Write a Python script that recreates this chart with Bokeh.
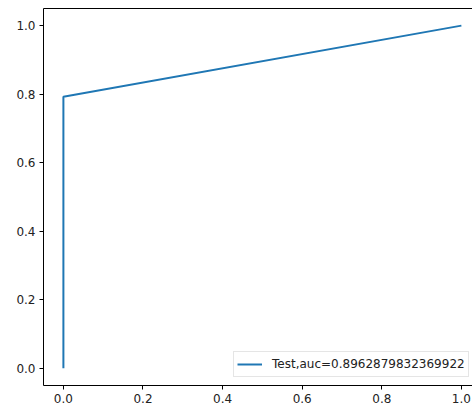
from bokeh.plotting import figure
from bokeh.models import LinearAxis, FixedTicker, PrintfTickFormatter, Range1d
from bokeh.embed import file_html
from bokeh.resources import INLINE

fpr = [0.0, 0.0, 1.0]
tpr = [0.0, 0.7925759664739844, 1.0]
auc = 0.8962879832369922
label = "Test,auc=" + str(auc)
ticks = [0.0, 0.2, 0.4, 0.6, 0.8, 1.0]

p = figure(width=472, height=407, output_backend="svg", toolbar_location=None,
           x_range=Range1d(-0.05, 1.0279), y_range=Range1d(-0.05, 1.05),
           min_border_left=43, min_border_top=8, min_border_right=0, min_border_bottom=22,
           x_axis_location=None, y_axis_location=None)
p.outline_line_color = None
p.grid.visible = False

xa = LinearAxis(ticker=FixedTicker(ticks=ticks), formatter=PrintfTickFormatter(format="%.1f"))
ya = LinearAxis(ticker=FixedTicker(ticks=ticks), formatter=PrintfTickFormatter(format="%.1f"))
for ax in (xa, ya):
    ax.major_tick_in = 0
    ax.major_tick_out = 4
    ax.minor_tick_line_color = None
    ax.axis_line_color = "black"
    ax.major_tick_line_color = "black"
    ax.major_label_text_font = "DejaVu Sans"
    ax.major_label_text_font_size = "12px"
    ax.major_label_text_color = "#222222"
    ax.major_label_standoff = 4
p.add_layout(xa, "below")
p.add_layout(ya, "left")

top = LinearAxis(ticker=FixedTicker(ticks=[]), major_tick_in=0, major_tick_out=0,
                 minor_tick_line_color=None, major_label_text_font_size="0px",
                 major_label_standoff=0, axis_line_color="black")
p.add_layout(top, "above")

p.line(fpr, tpr, line_color="#1f77b4", line_width=2, legend_label=label)

lg = p.legend[0]
lg.location = (190, 8)
lg.label_text_font = "DejaVu Sans"
lg.label_text_font_size = "12px"
lg.label_text_color = "#222222"
lg.border_line_color = "#cccccc"
lg.padding = 3
lg.margin = 0
lg.glyph_width = 25
lg.glyph_height = 18
lg.label_height = 18
lg.label_standoff = 10
lg.background_fill_alpha = 0.8

open("out.html", "w").write(file_html(p, INLINE))
